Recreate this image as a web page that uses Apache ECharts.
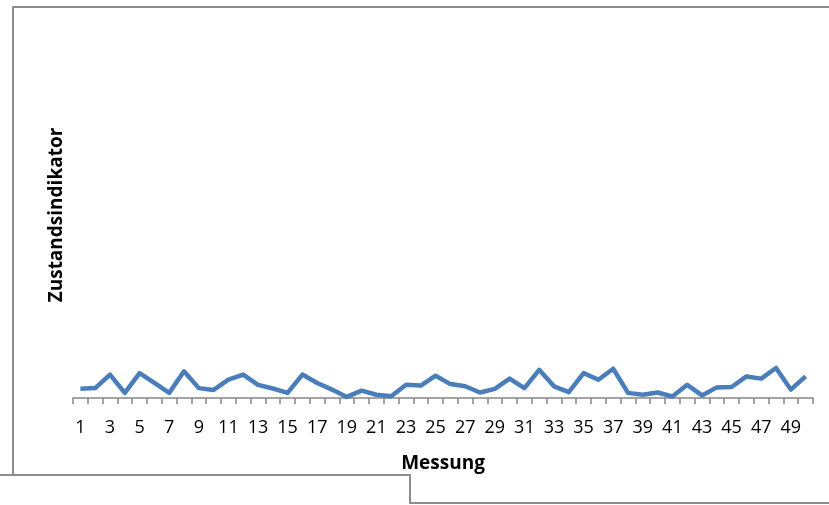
<!DOCTYPE html>
<html>
<head>
<meta charset="utf-8">
<script src="https://cdn.jsdelivr.net/npm/echarts@6/dist/echarts.min.js"></script>
<style>
  html, body { margin: 0; padding: 0; background: #ffffff; }
  #chart { width: 829px; height: 505px; }
</style>
</head>
<body>
<div id="chart"></div>
<script>
// Measurement numbers 1..50 on the category axis
const messungen = Array.from({ length: 50 }, (_, i) => String(i + 1));

// Condition indicator per measurement
const zustand = [
  2.5, 2.7, 6.4, 1.4, 6.8, 4.1, 1.4, 7.3, 2.7, 2.2,
  5.0, 6.4, 3.6, 2.6, 1.4, 6.4, 4.1, 2.3, 0.3, 2.0,
  0.9, 0.5, 3.6, 3.4, 6.1, 3.8, 3.2, 1.5, 2.5, 5.3,
  2.7, 7.7, 3.2, 1.6, 6.8, 5.0, 8.0, 1.4, 0.9, 1.5,
  0.4, 3.6, 0.7, 2.9, 3.0, 5.9, 5.3, 8.2, 2.3, 5.9
];

const yMin = 0;
const yMax = 100;

const chart = echarts.init(document.getElementById('chart'), null, { renderer: 'canvas' });

const frameColor = '#8c8c8c';
const fontFamily = '"Open Sans", "Liberation Sans", sans-serif';

chart.setOption({
  animation: false,
  backgroundColor: '#ffffff',
  grid: { left: 73, right: 16, top: 32, bottom: 107, containLabel: false },
  xAxis: {
    type: 'category',
    data: messungen,
    boundaryGap: true,
    name: 'Messung',
    nameLocation: 'middle',
    nameGap: 56,
    nameTextStyle: { fontFamily, fontSize: 19, fontWeight: 'bold', color: '#000000' },
    axisLine: { show: true, lineStyle: { color: '#868686', width: 1.5 } },
    axisTick: { show: true, interval: 0, length: 6, lineStyle: { color: '#868686', width: 1.5 } },
    axisLabel: { interval: 1, margin: 21, fontFamily, fontSize: 18, color: '#000000' },
    splitLine: { show: false }
  },
  yAxis: {
    type: 'value',
    min: yMin,
    max: yMax,
    name: 'Zustandsindikator',
    nameLocation: 'middle',
    nameRotate: 90,
    nameGap: 7,
    nameTextStyle: { fontFamily, fontSize: 19, fontWeight: 'bold', color: '#000000' },
    axisLine: { show: false },
    axisTick: { show: false },
    axisLabel: { show: false },
    splitLine: { show: false }
  },
  series: [{
    type: 'line',
    data: zustand,
    showSymbol: false,
    symbol: 'none',
    lineStyle: { color: '#4a7ebb', width: 4.5, join: 'round' },
    itemStyle: { color: '#4a7ebb' }
  }],
  graphic: [
    {
      type: 'polyline',
      silent: true,
      shape: { points: [[13, 475], [13, 7], [829, 7]] },
      style: { stroke: frameColor, lineWidth: 2, fill: null }
    },
    {
      type: 'polyline',
      silent: true,
      shape: { points: [[0, 475], [410, 475], [410, 503], [829, 503]] },
      style: { stroke: frameColor, lineWidth: 2, fill: null }
    }
  ]
});
</script>
</body>
</html>
